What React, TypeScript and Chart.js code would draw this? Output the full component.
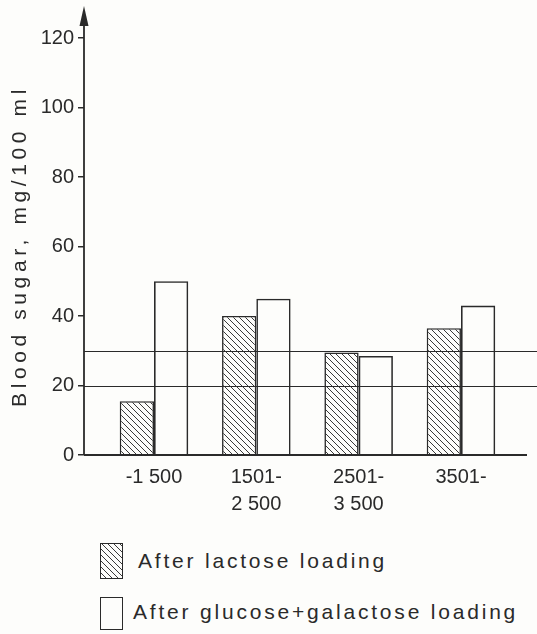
import React, { useEffect, useRef } from "react";
import { Chart, registerables } from "chart.js";

Chart.register(...registerables);

const categories: string[][] = [["-1 500"], ["1501-", "2 500"], ["2501-", "3 500"], ["3501-"]];
const lactose = [15.5, 40, 29.5, 36.5];
const glucoseGalactose = [50, 45, 28.5, 43];
const yMin = 0;
const yMax = 120;
const yStep = 20;
const referenceLines = [20, 30];
const seriesLabels = ["After lactose loading", "After glucose+galactose loading"];
const yTitle = "Blood sugar, mg/100 ml";

const INK = "#2a2a2a";
const BG = "#fdfdfb";
const FONT = "'Liberation Sans', Arial, sans-serif";

function makeHatch(): CanvasPattern | string {
  const s = 6;
  const c = document.createElement("canvas");
  c.width = s;
  c.height = s;
  const g = c.getContext("2d");
  if (!g) return BG;
  g.fillStyle = BG;
  g.fillRect(0, 0, s, s);
  g.strokeStyle = "#3a3a3a";
  g.lineWidth = 1;
  for (const x0 of [-s, 0, s]) {
    g.beginPath();
    g.moveTo(x0 - 1, -1);
    g.lineTo(x0 + s + 1, s + 1);
    g.stroke();
  }
  const p = g.createPattern(c, "repeat");
  return p || BG;
}

const decorPlugin = {
  id: "decor",
  afterDatasetsDraw(chart: any) {
    const { ctx, chartArea, scales } = chart;
    const y = scales.y;
    ctx.save();
    ctx.strokeStyle = INK;
    ctx.lineWidth = 1.2;
    for (const v of referenceLines) {
      const py = Math.round(y.getPixelForValue(v)) + 0.5;
      ctx.beginPath();
      ctx.moveTo(chartArea.left, py);
      ctx.lineTo(chart.width, py);
      ctx.stroke();
    }
    ctx.lineWidth = 1.8;
    const y0 = y.getPixelForValue(0);
    ctx.beginPath();
    ctx.moveTo(chartArea.left, y0);
    ctx.lineTo(chart.width - 10, y0);
    ctx.stroke();
    ctx.beginPath();
    ctx.moveTo(chartArea.left, y0);
    ctx.lineTo(chartArea.left, 14);
    ctx.stroke();
    ctx.fillStyle = INK;
    ctx.beginPath();
    ctx.moveTo(chartArea.left, 6);
    ctx.lineTo(chartArea.left - 4.5, 26);
    ctx.lineTo(chartArea.left + 4.5, 26);
    ctx.closePath();
    ctx.fill();
    ctx.translate(20, 246);
    ctx.rotate(-Math.PI / 2);
    ctx.font = `21px ${FONT}`;
    (ctx as any).letterSpacing = "4.6px";
    ctx.textAlign = "center";
    ctx.textBaseline = "middle";
    ctx.fillText(yTitle, 0, 0);
    ctx.restore();
  },
};

export default function App() {
  const ref = useRef<HTMLCanvasElement | null>(null);

  useEffect(() => {
    if (!ref.current) return;
    const hatch = makeHatch();
    const chart = new Chart(ref.current, {
      type: "bar",
      data: {
        datasets: [
          {
            label: seriesLabels[0],
            data: lactose.map((v, i) => ({ x: i, y: v })),
            backgroundColor: hatch as any,
            borderColor: INK,
            borderWidth: 1.6,
            categoryPercentage: 0.67,
            barPercentage: 1,
          },
          {
            label: seriesLabels[1],
            data: glucoseGalactose.map((v, i) => ({ x: i, y: v })),
            backgroundColor: "rgba(0,0,0,0)",
            borderColor: INK,
            borderWidth: 1.6,
            categoryPercentage: 0.67,
            barPercentage: 1,
          },
        ],
      },
      options: {
        animation: false,
        responsive: false,
        layout: { padding: { top: 38, left: 0, right: 0, bottom: 0 } },
        plugins: {
          legend: { display: false },
          tooltip: { enabled: false },
        },
        scales: {
          x: {
            type: "linear",
            offset: false,
            min: -0.684,
            max: 3.743,
            grid: { display: false, drawTicks: false, offset: false },
            border: { display: false },
            afterBuildTicks: (scale: any) => {
              scale.ticks = categories.map((_, i) => ({ value: i }));
            },
            afterFit: (scale: any) => {
              scale.height = 65;
            },
            ticks: {
              autoSkip: false,
              maxRotation: 0,
              padding: 9,
              color: INK,
              font: { family: FONT, size: 20, lineHeight: 1.35 },
              callback: (value: any) => categories[Math.round(Number(value))] ?? "",
            },
          },
          y: {
            min: yMin,
            max: yMax,
            grid: {
              display: true,
              drawOnChartArea: false,
              drawTicks: true,
              tickLength: 6,
              color: INK,
              lineWidth: 1.5,
            },
            border: { display: false },
            afterFit: (scale: any) => {
              scale.width = 84;
            },
            ticks: {
              stepSize: yStep,
              padding: 4,
              color: INK,
              font: { family: FONT, size: 20 },
            },
          },
        },
      },
      plugins: [decorPlugin],
    } as any);
    return () => chart.destroy();
  }, []);

  const hatchCss =
    "repeating-linear-gradient(45deg, transparent 0px, transparent 3.1px, #3a3a3a 3.1px, #3a3a3a 4.24px)";

  return (
    <div
      style={{
        position: "absolute",
        left: 0,
        top: 0,
        width: 537,
        height: 634,
        background: BG,
        fontFamily: FONT,
        color: INK,
        overflow: "hidden",
      }}
    >
      <canvas ref={ref} width={537} height={520} style={{ display: "block" }} />
      <div
        style={{
          position: "absolute",
          left: 100,
          top: 543,
          width: 21,
          height: 34,
          border: `1.6px solid ${INK}`,
          background: hatchCss,
          backgroundColor: BG,
        }}
      />
      <div
        style={{
          position: "absolute",
          left: 138,
          top: 561,
          transform: "translateY(-50%)",
          fontSize: 21,
          letterSpacing: "2.8px",
          whiteSpace: "nowrap",
        }}
      >
        {seriesLabels[0]}
      </div>
      <div
        style={{
          position: "absolute",
          left: 100,
          top: 597,
          width: 21,
          height: 31,
          border: `1.6px solid ${INK}`,
          background: BG,
        }}
      />
      <div
        style={{
          position: "absolute",
          left: 133,
          top: 612,
          transform: "translateY(-50%)",
          fontSize: 21,
          letterSpacing: "2.8px",
          whiteSpace: "nowrap",
        }}
      >
        {seriesLabels[1]}
      </div>
    </div>
  );
}
